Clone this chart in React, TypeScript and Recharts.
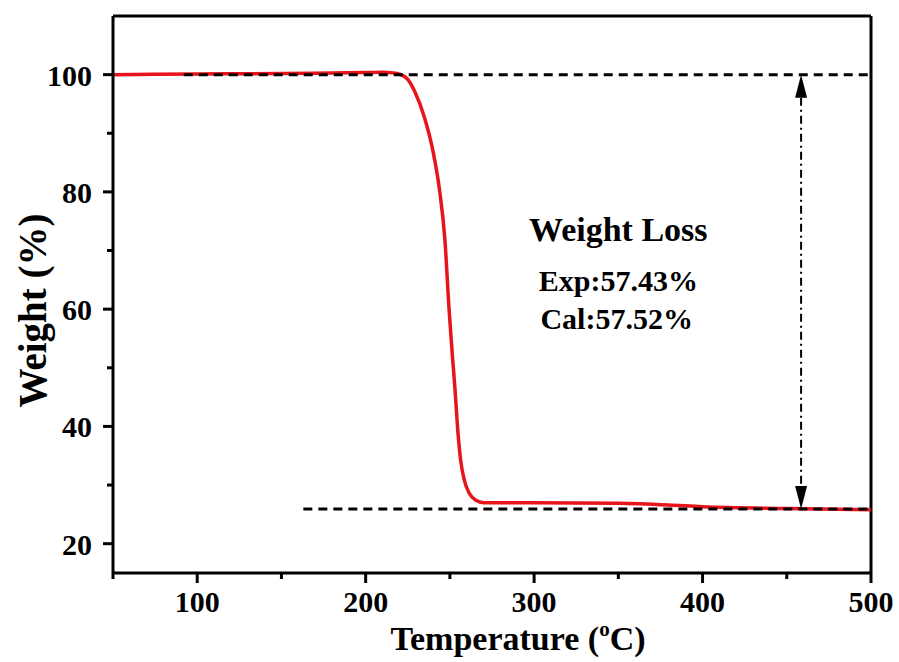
import React from 'react';
import { LineChart, Line, XAxis, YAxis, ReferenceLine, ReferenceDot } from 'recharts';

const temperatures = [50, 100, 150, 200, 210, 216, 220, 225, 229, 235, 240, 244, 247, 249.5, 251.5, 253, 254.7, 256.5, 258.6, 261.5, 265.4, 270, 300, 350, 380, 400, 450, 500];
const weights = [100.0, 100.1, 100.2, 100.35, 100.4, 100.3, 100.1, 99.2, 97.2, 92.6, 86.9, 80, 72, 60, 52, 46.5, 39.3, 34, 30.8, 28.6, 27.4, 27.0, 27.0, 26.9, 26.6, 26.3, 26.0, 25.8];

const xTicks = [50, 100, 150, 200, 250, 300, 350, 400, 450, 500];
const xMajor = [100, 200, 300, 400, 500];
const yTicks = [20, 30, 40, 50, 60, 70, 80, 90, 100];
const yMajor = [20, 40, 60, 80, 100];

const topLevel = 100;
const bottomLevel = 25.9;
const topDashStart = 92;
const bottomDashStart = 163;
const arrowX = 458.5;

const titleText = 'Weight Loss';
const expText = 'Exp:57.43%';
const calText = 'Cal:57.52%';

const data = temperatures.map((t, i) => ({ t, w: weights[i] }));

const FONT = '"Liberation Serif", "Times New Roman", serif';
const TICK_SIZE = 10;

const XTick = (props: any) => {
  const { x, y, payload } = props;
  const axisY = y - TICK_SIZE;
  const major = xMajor.includes(payload.value);
  return (
    <g>
      <line x1={x} x2={x} y1={axisY} y2={axisY + (major ? 10 : 6)} stroke="#000" strokeWidth={3} />
      {major && (
        <text x={x} y={axisY + 39} textAnchor="middle" fontFamily={FONT} fontWeight="bold" fontSize={30} fill="#000">
          {payload.value}
        </text>
      )}
    </g>
  );
};

const YTick = (props: any) => {
  const { x, y, payload } = props;
  const axisX = x + TICK_SIZE;
  const major = yMajor.includes(payload.value);
  return (
    <g>
      <line x1={axisX - (major ? 10 : 6)} x2={axisX} y1={y} y2={y} stroke="#000" strokeWidth={3} />
      {major && (
        <text x={axisX - 21} y={y + 11} textAnchor="end" fontFamily={FONT} fontWeight="bold" fontSize={30} fill="#000">
          {payload.value}
        </text>
      )}
    </g>
  );
};

const XLabel = (props: any) => {
  const vb = props.viewBox || {};
  const cx = vb.x + vb.width / 2 + 26;
  return (
    <text x={cx} y={vb.y + 77} textAnchor="middle" fontFamily={FONT} fontWeight="bold" fontSize={34} fill="#000">
      Temperature (
      <tspan fontSize={21} dy={-14}>o</tspan>
      <tspan dy={14}>C)</tspan>
    </text>
  );
};

const YLabel = (props: any) => {
  const vb = props.viewBox || {};
  const cy = vb.y + vb.height / 2 + 16;
  const cx = 46;
  return (
    <text x={cx} y={cy} transform={`rotate(-90 ${cx} ${cy})`} textAnchor="middle" fontFamily={FONT} fontWeight="bold" fontSize={39} fill="#000">
      Weight (%)
    </text>
  );
};

const ArrowShape = (props: any) => {
  const { x1, y1, x2, y2 } = props;
  const top = Math.min(y1, y2);
  const bot = Math.max(y1, y2);
  const x = x1;
  const h = 23;
  const w = 6;
  return (
    <g>
      <line x1={x} x2={x} y1={top + h} y2={bot - h} stroke="#000" strokeWidth={2} strokeDasharray="8 4 2 4" />
      <polygon points={`${x},${top} ${x - w},${top + h} ${x + w},${top + h}`} fill="#000" />
      <polygon points={`${x},${bot} ${x - w},${bot - h} ${x + w},${bot - h}`} fill="#000" />
    </g>
  );
};

const makeText = (text: string, size: number) => (p: any) => (
  <text x={p.cx} y={p.cy} textAnchor="middle" fontFamily={FONT} fontWeight="bold" fontSize={size} fill="#000">
    {text}
  </text>
);

export default function App() {
  return (
    <div style={{ position: 'absolute', left: 0, top: 0, background: '#fff' }}>
      <LineChart width={899} height={662} data={data} margin={{ top: 16, right: 28, left: 33, bottom: 29 }}>
        <XAxis
          dataKey="t"
          type="number"
          domain={[50, 500]}
          ticks={xTicks}
          allowDataOverflow
          tick={<XTick />}
          tickLine={false}
          tickSize={TICK_SIZE}
          tickMargin={0}
          height={60}
          axisLine={{ stroke: '#000', strokeWidth: 3 }}
          label={<XLabel />}
        />
        <YAxis
          type="number"
          domain={[15, 110]}
          ticks={yTicks}
          allowDataOverflow
          tick={<YTick />}
          tickLine={false}
          tickSize={TICK_SIZE}
          tickMargin={0}
          width={80}
          axisLine={{ stroke: '#000', strokeWidth: 3 }}
          label={<YLabel />}
        />
        <ReferenceLine y={110} stroke="#000" strokeWidth={3} />
        <ReferenceLine x={500} stroke="#000" strokeWidth={3} />
        <Line
          type="monotone"
          dataKey="w"
          stroke="#e8141c"
          strokeWidth={3.5}
          dot={false}
          isAnimationActive={false}
        />
        <ReferenceLine
          segment={[{ x: topDashStart, y: topLevel }, { x: 500, y: topLevel }]}
          stroke="#000"
          strokeWidth={3}
          strokeDasharray="9 6"
        />
        <ReferenceLine
          segment={[{ x: bottomDashStart, y: bottomLevel }, { x: 500, y: bottomLevel }]}
          stroke="#000"
          strokeWidth={3}
          strokeDasharray="9 6"
        />
        <ReferenceLine
          segment={[{ x: arrowX, y: topLevel }, { x: arrowX, y: bottomLevel }]}
          shape={<ArrowShape />}
        />
        <ReferenceDot x={350} y={71.6} r={0} shape={makeText(titleText, 34)} />
        <ReferenceDot x={350} y={63.1} r={0} shape={makeText(expText, 30)} />
        <ReferenceDot x={349} y={56.6} r={0} shape={makeText(calText, 30)} />
      </LineChart>
    </div>
  );
}
